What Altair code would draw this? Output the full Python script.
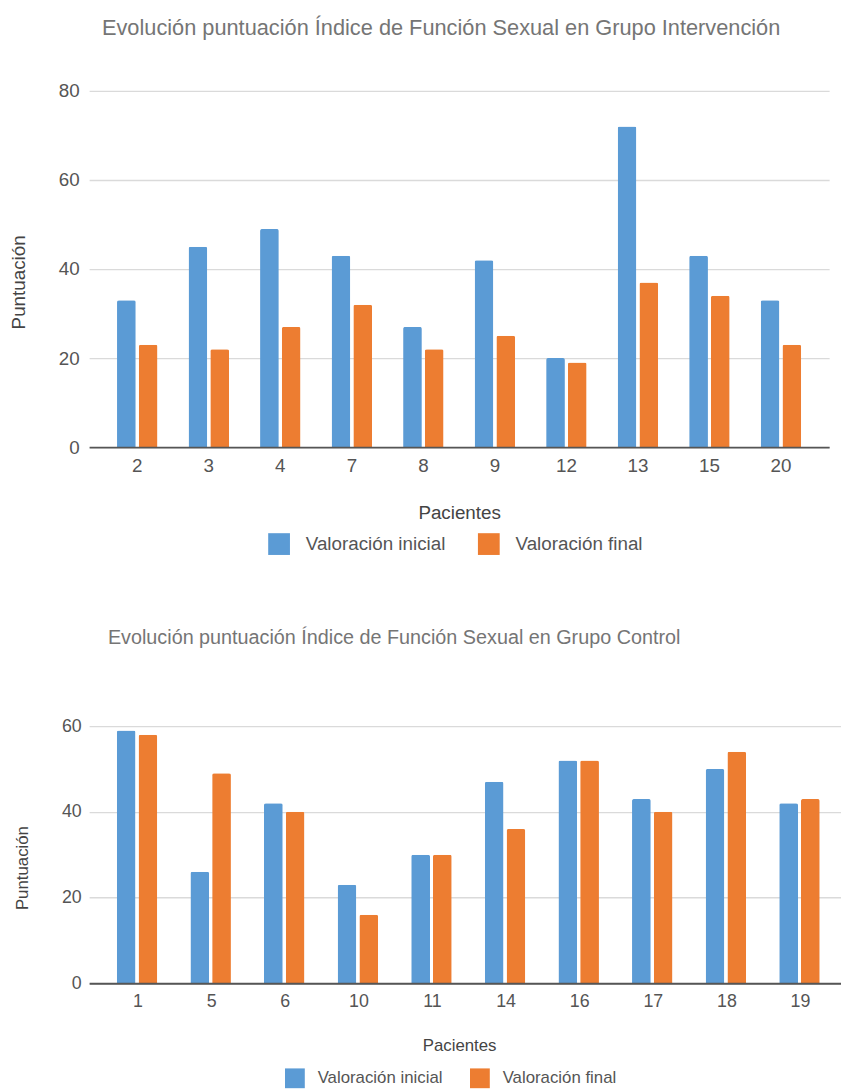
import altair as alt
import pandas as pd

FONT = "Liberation Sans"

pacientes_int = ["2", "3", "4", "7", "8", "9", "12", "13", "15", "20"]
inicial_int = [33, 45, 49, 43, 27, 42, 20, 72, 43, 33]
final_int = [23, 22, 27, 32, 22, 25, 19, 37, 34, 23]

pacientes_ctl = ["1", "5", "6", "10", "11", "14", "16", "17", "18", "19"]
inicial_ctl = [59, 26, 42, 23, 30, 47, 52, 43, 50, 42]
final_ctl = [58, 49, 40, 16, 30, 36, 52, 40, 54, 43]

series = ["Valoración inicial", "Valoración final"]
colores = ["#5B9BD5", "#ED7D31"]

titulo_int = "Evolución puntuación Índice de Función Sexual en Grupo Intervención"
titulo_ctl = "Evolución puntuación Índice de Función Sexual en Grupo Control"
y_ticks_int = [0, 20, 40, 60, 80]
y_ticks_ctl = [0, 20, 40, 60]


def long_df(pac, ini, fin):
    rows = []
    for p, a, b in zip(pac, ini, fin):
        rows.append({"Paciente": p, "Serie": series[0], "valor": a})
        rows.append({"Paciente": p, "Serie": series[1], "valor": b})
    return pd.DataFrame(rows)


def panel(df, order, ticks, titulo, w, h, pi, po, al, subpi, fs_tick, fs_lab,
          fs_title, ylab_pad, xlab_pad, ytitle_x, ytitle_y, xtitle_x, xtitle_y,
          leg_x, leg_y, sym, lab_off, col_pad, title_off, title_dx):
    return alt.Chart(df).mark_bar(
        cornerRadiusTopLeft=2, cornerRadiusTopRight=2
    ).encode(
        x=alt.X(
            "Paciente:N", sort=order,
            scale=alt.Scale(paddingInner=pi, paddingOuter=po, align=al, round=False),
            axis=alt.Axis(
                title="Pacientes", labelAngle=0, ticks=False, tickSize=0, grid=False,
                domainColor="#555555", domainWidth=2, labelColor="#555555",
                labelFontSize=fs_tick, labelPadding=xlab_pad, labelFont=FONT,
                titleFont=FONT, titleFontSize=fs_lab, titleFontWeight="normal",
                titleColor="#444444", titleBaseline="middle", titleAlign="center",
                titleX=xtitle_x, titleY=xtitle_y, zindex=1,
            ),
        ),
        xOffset=alt.XOffset(
            "Serie:N", sort=series,
            scale=alt.Scale(paddingInner=subpi, paddingOuter=0),
        ),
        y=alt.Y(
            "valor:Q",
            scale=alt.Scale(domain=[0, ticks[-1]], nice=False),
            axis=alt.Axis(
                title="Puntuación", values=ticks, domain=False, ticks=False, tickSize=0,
                gridColor="#dadada", gridWidth=1.3, labelColor="#555555",
                labelFontSize=fs_tick, labelPadding=ylab_pad, labelFont=FONT,
                titleFont=FONT, titleFontSize=fs_lab, titleFontWeight="normal",
                titleColor="#444444", titleBaseline="alphabetic", titleAngle=270,
                titleAlign="center", titleX=ytitle_x, titleY=ytitle_y,
            ),
        ),
        color=alt.Color(
            "Serie:N", sort=series,
            scale=alt.Scale(domain=series, range=colores),
            legend=alt.Legend(
                title=None, orient="none", legendX=leg_x, legendY=leg_y,
                direction="horizontal", symbolType="square", symbolSize=sym * sym,
                symbolStrokeWidth=0, labelFontSize=fs_lab, labelFont=FONT,
                labelColor="#555555", labelOffset=lab_off, columnPadding=col_pad,
                padding=0,
            ),
        ),
    ).properties(
        width=w, height=h,
        title=alt.Title(
            titulo, anchor="start", frame="group", fontSize=fs_title, font=FONT,
            fontWeight="normal", color="#757575", offset=title_off, dx=title_dx,
            baseline="alphabetic",
        ),
    )


top = panel(long_df(pacientes_int, inicial_int, final_int), pacientes_int, y_ticks_int,
            titulo_int, 748, 360, 0.433, 0.39, 0.5, 0.136, 19, 19, 22, 10, 10,
            -65, 193, 374, 66, 181, 447, 22, 16, 32, 26, 13)

bottom = panel(long_df(pacientes_ctl, inicial_ctl, final_ctl), pacientes_ctl, y_ticks_ctl,
               titulo_ctl, 760, 260, 0.422, 0.3185, 0.59, 0.13, 18, 17, 20, 8, 9,
               -62, 143, 374, 63, 198, 346, 20, 13, 27, 54, 19)

chart = alt.vconcat(top, bottom, spacing=74).resolve_scale(
    color="independent"
).resolve_legend(
    color="independent"
).properties(
    padding={"left": 2, "top": 3, "right": 0, "bottom": 0}
).configure(font=FONT).configure_view(stroke=None)

chart.save("out.html", embed_options={"renderer": "svg", "actions": False})
